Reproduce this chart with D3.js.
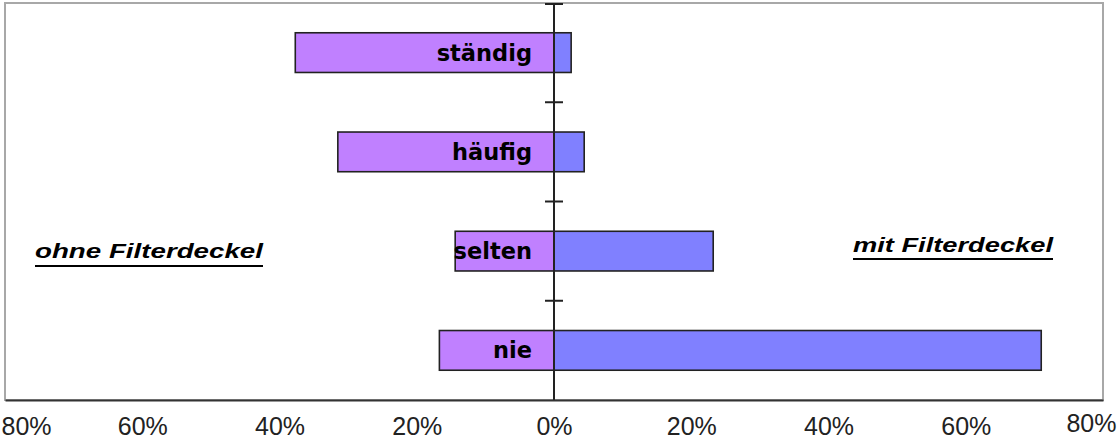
<!DOCTYPE html>
<html>
<head>
<meta charset="utf-8">
<script src="https://cdn.jsdelivr.net/npm/d3@7"></script>
<style>
  body { margin: 0; background: #fff; }
  svg { display: block; }
</style>
</head>
<body>
<script>
// categories, top to bottom
var categories = ["ständig", "häufig", "selten", "nie"];
// percent, ohne Filterdeckel (left side)
var ohne = [37.7, 31.5, 14.4, 16.7];
// percent, mit Filterdeckel (right side)
var mit = [2.5, 4.4, 23.2, 71.0];
var tickValues = [-80, -60, -40, -20, 0, 20, 40, 60, 80];

var W = 1117, H = 441;
var svg = d3.select("body").append("svg").attr("width", W).attr("height", H);

var x = d3.scaleLinear().domain([-80, 80]).range([5, 1103]);
var y = d3.scaleBand().domain(categories).range([3, 400])
    .paddingInner(0.6).paddingOuter(0.3);

// frame
svg.append("rect")
    .attr("x", x(-80)).attr("y", 3)
    .attr("width", x(80) - x(-80)).attr("height", 397)
    .attr("fill", "none").attr("stroke", "#a8a8a8").attr("stroke-width", 2);

var rows = categories.map(function (c, i) { return { cat: c, ohne: ohne[i], mit: mit[i] }; });

// left bars
svg.selectAll("rect.ohne").data(rows).enter().append("rect")
    .attr("class", "ohne")
    .attr("x", function (d) { return x(-d.ohne); })
    .attr("y", function (d) { return y(d.cat); })
    .attr("width", function (d) { return x(0) - x(-d.ohne); })
    .attr("height", y.bandwidth())
    .attr("fill", "#c080ff").attr("stroke", "#222").attr("stroke-width", 1.6);

// right bars
svg.selectAll("rect.mit").data(rows).enter().append("rect")
    .attr("class", "mit")
    .attr("x", x(0))
    .attr("y", function (d) { return y(d.cat); })
    .attr("width", function (d) { return x(d.mit) - x(0); })
    .attr("height", y.bandwidth())
    .attr("fill", "#8080ff").attr("stroke", "#222").attr("stroke-width", 1.6);

// category labels
svg.selectAll("text.cat").data(rows).enter().append("text")
    .attr("class", "cat")
    .attr("x", x(0) - 22)
    .attr("y", function (d) { return y(d.cat) + y.bandwidth() / 2 + 8; })
    .attr("text-anchor", "end")
    .attr("font-family", "DejaVu Sans")
    .attr("font-weight", "bold")
    .attr("font-size", 22.5)
    .attr("fill", "#000")
    .text(function (d) { return d.cat; });

// vertical center axis with ticks at category boundaries
svg.append("line")
    .attr("x1", x(0)).attr("x2", x(0)).attr("y1", 3).attr("y2", 400)
    .attr("stroke", "#222").attr("stroke-width", 2);
var bounds = d3.range(categories.length).map(function (i) { return y(categories[i]) - y.step() * y.paddingInner() / 2; });
svg.selectAll("line.vt").data(bounds).enter().append("line")
    .attr("class", "vt")
    .attr("x1", x(0) - 9).attr("x2", x(0) + 9)
    .attr("y1", function (d) { return d < 10 ? 4 : d; })
    .attr("y2", function (d) { return d < 10 ? 4 : d; })
    .attr("stroke", "#222").attr("stroke-width", 2);

// bottom axis
var xAxis = d3.axisBottom(x).tickValues(tickValues).tickSize(0).tickPadding(0)
    .tickFormat(function (d) { return Math.abs(d) + "%"; });
var ax = svg.append("g").attr("transform", "translate(0,400)").call(xAxis);
ax.select(".domain").attr("stroke", "#333").attr("stroke-width", 2);
ax.selectAll("text")
    .attr("font-family", "Liberation Sans, Arial, sans-serif")
    .attr("font-size", 25)
    .attr("fill", "#222")
    .attr("dy", null)
    .attr("y", 35)
    .attr("text-anchor", function (d) { return d === -80 ? "start" : d === 80 ? "end" : "middle"; })
    .attr("x", function (d) { return d === -80 ? 1 - x(-80) : d === 80 ? W - 1 - x(80) : 0; })
    .attr("transform", function (d) { return d === 80 ? "translate(0,-3)" : null; });
ax.attr("font-size", null).attr("font-family", null);

// side labels
var sideLabels = [
    { text: "ohne Filterdeckel", x: 35, y: 258, w: 228, u: 266 },
    { text: "mit Filterdeckel", x: 853, y: 252, w: 200, u: 259 }
];
sideLabels.forEach(function (s) {
    svg.append("text")
        .attr("x", s.x).attr("y", s.y)
        .attr("font-family", "Liberation Sans, Arial, sans-serif")
        .attr("font-weight", "bold").attr("font-style", "italic")
        .attr("font-size", 20)
        .attr("textLength", s.w).attr("lengthAdjust", "spacingAndGlyphs")
        .attr("fill", "#000")
        .text(s.text);
    svg.append("line")
        .attr("x1", s.x).attr("x2", s.x + s.w).attr("y1", s.u).attr("y2", s.u)
        .attr("stroke", "#000").attr("stroke-width", 2);
});
</script>
</body>
</html>
